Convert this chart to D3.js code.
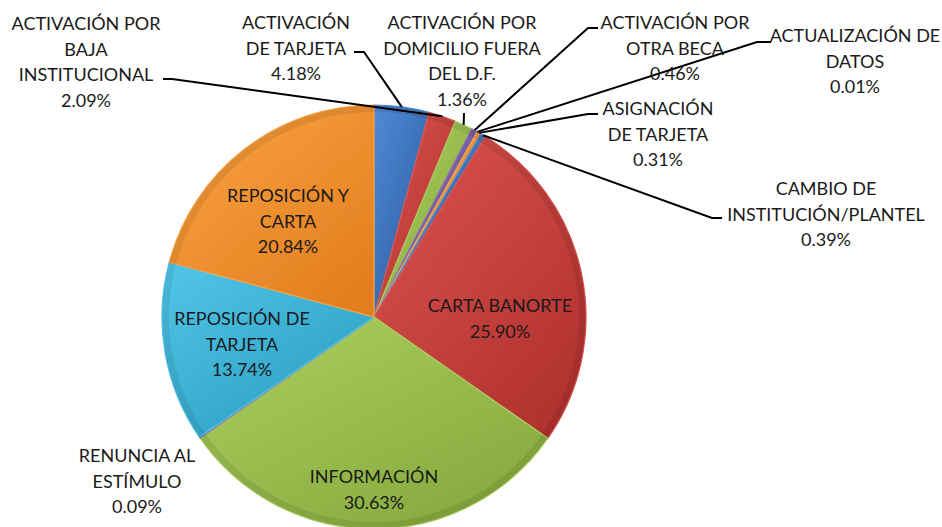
<!DOCTYPE html>
<html>
<head>
<meta charset="utf-8">
<script src="https://cdn.jsdelivr.net/npm/d3@7"></script>
<style>
  html, body { margin: 0; padding: 0; background: #fff; }
  svg text { font-family: Lato, "Open Sans", sans-serif; fill: #1a1a1a; }
</style>
</head>
<body>
<div id="chart"></div>
<script>
const width = 942;
const height = 527;

// data, in the order the slices go clockwise from 12 o'clock
const categories = [
    "ACTIVACIÓN DE TARJETA", "ACTIVACIÓN POR BAJA INSTITUCIONAL",
    "ACTIVACIÓN POR DOMICILIO FUERA DEL D.F.", "ACTIVACIÓN POR OTRA BECA",
    "ACTUALIZACIÓN DE DATOS", "ASIGNACIÓN DE TARJETA",
    "CAMBIO DE INSTITUCIÓN/PLANTEL", "CARTA BANORTE", "INFORMACIÓN",
    "RENUNCIA AL ESTÍMULO", "REPOSICIÓN DE TARJETA", "REPOSICIÓN Y CARTA"
];
const values = [4.18, 2.09, 1.36, 0.46, 0.01, 0.31, 0.39, 25.90, 30.63, 0.09, 13.74, 20.84];
// how each label wraps
const labelLines = [
    ["ACTIVACIÓN", "DE TARJETA"],
    ["ACTIVACIÓN POR", "BAJA", "INSTITUCIONAL"],
    ["ACTIVACIÓN POR", "DOMICILIO FUERA", "DEL D.F."],
    ["ACTIVACIÓN POR", "OTRA BECA"],
    ["ACTUALIZACIÓN DE", "DATOS"],
    ["ASIGNACIÓN", "DE TARJETA"],
    ["CAMBIO DE", "INSTITUCIÓN/PLANTEL"],
    ["CARTA BANORTE"],
    ["INFORMACIÓN"],
    ["RENUNCIA AL", "ESTÍMULO"],
    ["REPOSICIÓN DE", "TARJETA"],
    ["REPOSICIÓN Y", "CARTA"]
];

// layout of each label: centre x, first baseline, leader elbow points (or none)
const labelLayout = [
    {x: 296, y: 29, leader: [[354, 52], [364, 52]]},
    {x: 86, y: 30, leader: [[163, 79], [172, 79]]},
    {x: 462, y: 29, leader: [[464, 113]]},
    {x: 675, y: 29, leader: [[598, 28], [588, 28]]},
    {x: 855, y: 42, leader: [[771, 42], [757, 42]]},
    {x: 658, y: 115, leader: [[598, 114], [588, 114]]},
    {x: 826, y: 195, leader: [[722, 218], [712, 218]]},
    {x: 500, y: 312, leader: null},
    {x: 374, y: 483, leader: null},
    {x: 137, y: 462, leader: null},
    {x: 242, y: 325, leader: null},
    {x: 288, y: 202, leader: null}
];

const palette = [
    ["#4f8ad8", "#2c5c9c"],
    ["#dc5450", "#b0312e"],
    ["#acd062", "#86a83c"],
    ["#9070b6", "#654a8a"],
    ["#52c6e8", "#2a9ec2"],
    ["#fca443", "#e27e1e"]
];

const cx = 374, cy = 317, radius = 212;
const lineStep = 25.6;

const svg = d3.select("#chart").append("svg")
    .attr("width", width)
    .attr("height", height);

const defs = svg.append("defs");
palette.forEach((c, i) => {
    const g = defs.append("linearGradient")
        .attr("id", "grad" + i)
        .attr("x1", 0).attr("y1", 0).attr("x2", 0.8).attr("y2", 1);
    g.append("stop").attr("offset", "0%").attr("stop-color", c[0]);
    g.append("stop").attr("offset", "100%").attr("stop-color", c[1]);
});

const pie = d3.pie().sort(null).value(d => d);
const arcs = pie(values);
const arc = d3.arc().innerRadius(0).outerRadius(radius);

const g = svg.append("g").attr("transform", `translate(${cx},${cy})`);

g.selectAll("path.slice")
    .data(arcs)
    .join("path")
        .attr("class", "slice")
        .attr("d", arc)
        .attr("fill", (d, i) => `url(#grad${i % palette.length})`)
        .attr("stroke", (d, i) => palette[i % palette.length][0])
        .attr("stroke-width", 1.2)
        .attr("stroke-linejoin", "round");

// subtle bevel rim
g.selectAll("path.rim")
    .data(arcs)
    .join("path")
        .attr("class", "rim")
        .attr("d", d3.arc().innerRadius(radius - 7).outerRadius(radius))
        .attr("fill", "#000")
        .attr("opacity", 0.08);

// leader lines: elbow points then the mid angle of the slice on the rim
const edgePoint = d => {
    const a = (d.startAngle + d.endAngle) / 2;
    return [cx + radius * Math.sin(a), cy - radius * Math.cos(a)];
};
const line = d3.line();
svg.append("g")
    .selectAll("path")
    .data(arcs.filter((d, i) => labelLayout[i].leader))
    .join("path")
        .attr("d", d => line(labelLayout[d.index].leader.concat([edgePoint(d)])))
        .attr("fill", "none")
        .attr("stroke", "#000")
        .attr("stroke-width", 2);

const labels = svg.append("g")
    .selectAll("text")
    .data(arcs)
    .join("text")
        .attr("text-anchor", "middle")
        .attr("font-size", 18);

labels.each(function(d, i) {
    const lay = labelLayout[i];
    const lines = labelLines[i].concat([d3.format(".2f")(values[i]) + "%"]);
    d3.select(this).selectAll("tspan")
        .data(lines)
        .join("tspan")
            .attr("x", lay.x)
            .attr("y", (t, k) => lay.y + k * lineStep)
            .text(t => t);
});
</script>
</body>
</html>
